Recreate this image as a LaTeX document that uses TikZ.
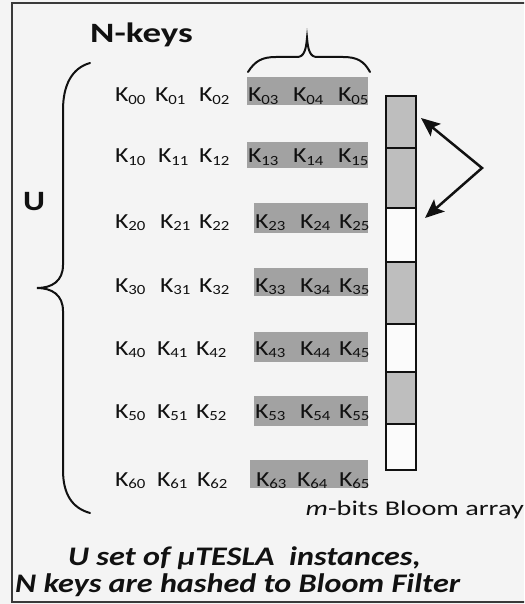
\documentclass[tikz,border=0pt]{standalone}
\usepackage{graphicx}
\usepackage{fontspec}
\setmainfont{Carlito}[FakeStretch=1.2]
\usetikzlibrary{arrows.meta}
\definecolor{bg}{HTML}{F4F4F4}
\definecolor{ink}{HTML}{111111}
\definecolor{keygray}{HTML}{A2A2A2}
\definecolor{cellgray}{HTML}{BEBEBE}
\definecolor{cellwhite}{HTML}{FBFBFB}
\definecolor{framecol}{HTML}{3A3A3A}
\newcommand\kk[1]{K\kern-0.3pt\raisebox{-2.5pt}{\fontsize{14}{14}\selectfont #1}}
\begin{document}
\begin{tikzpicture}[x=1pt,y=-1pt,
  key/.style={inner sep=0pt,anchor=base west,text=ink,font=\fontsize{21.5}{21.5}\selectfont},
  keybox/.style={fill=keygray,draw=none},
  cellbox/.style={draw=ink,line width=2pt},
  brace/.style={draw=ink,line width=2pt,line cap=round},
  arr/.style={draw=ink,line width=2.5pt,{Stealth[length=19pt,width=16pt,inset=4pt]}-{Stealth[length=19pt,width=16pt,inset=4pt]}},
  lab/.style={inner sep=0pt,text=ink}]
\useasboundingbox (0,0) rectangle (524,604);
\clip (0,0) rectangle (524,604);
\fill[bg] (0,0) rectangle (524,604);
\draw[framecol,line width=2pt] (12,3) rectangle (540,602);

% gray key boxes
\fill[keybox] (247,77) rectangle (368,105);
\fill[keybox] (247,142) rectangle (368,168);
\fill[keybox] (254,203) rectangle (368,233);
\fill[keybox] (254,268) rectangle (368,296);
\fill[keybox] (254,332) rectangle (368,362);
\fill[keybox] (254,396) rectangle (368,426);
\fill[keybox] (250,460) rectangle (368,488);

% keys
\node[key] (k00) at (115,102) {\kk{00}};
\node[key] (k01) at (155,102) {\kk{01}};
\node[key] (k02) at (199,102) {\kk{02}};
\node[key] (k03) at (248,102) {\kk{03}};
\node[key] (k04) at (293,102) {\kk{04}};
\node[key] (k05) at (338,102) {\kk{05}};

\node[key] (k10) at (115,163) {\kk{10}};
\node[key] (k11) at (158,163) {\kk{11}};
\node[key] (k12) at (199,163) {\kk{12}};
\node[key] (k13) at (248,163) {\kk{13}};
\node[key] (k14) at (293,163) {\kk{14}};
\node[key] (k15) at (338,163) {\kk{15}};

\node[key] (k20) at (115,228) {\kk{20}};
\node[key] (k21) at (160,228) {\kk{21}};
\node[key] (k22) at (199,228) {\kk{22}};
\node[key] (k23) at (255,228) {\kk{23}};
\node[key] (k24) at (300,228) {\kk{24}};
\node[key] (k25) at (339,228) {\kk{25}};

\node[key] (k30) at (115,292) {\kk{30}};
\node[key] (k31) at (160,292) {\kk{31}};
\node[key] (k32) at (199,292) {\kk{32}};
\node[key] (k33) at (255,292) {\kk{33}};
\node[key] (k34) at (300,292) {\kk{34}};
\node[key] (k35) at (339,292) {\kk{35}};

\node[key] (k40) at (115,355) {\kk{40}};
\node[key] (k41) at (157,355) {\kk{41}};
\node[key] (k42) at (196,355) {\kk{42}};
\node[key] (k43) at (255,355) {\kk{43}};
\node[key] (k44) at (300,355) {\kk{44}};
\node[key] (k45) at (339,355) {\kk{45}};

\node[key] (k50) at (115,418) {\kk{50}};
\node[key] (k51) at (157,418) {\kk{51}};
\node[key] (k52) at (196,418) {\kk{52}};
\node[key] (k53) at (255,418) {\kk{53}};
\node[key] (k54) at (300,418) {\kk{54}};
\node[key] (k55) at (339,418) {\kk{55}};

\node[key] (k60) at (115,486) {\kk{60}};
\node[key] (k61) at (157,486) {\kk{61}};
\node[key] (k62) at (197,486) {\kk{62}};
\node[key] (k63) at (256,486) {\kk{63}};
\node[key] (k64) at (297,486) {\kk{64}};
\node[key] (k65) at (339,486) {\kk{65}};

% bloom array
\filldraw[cellbox,fill=cellgray]  (386,96) rectangle (416,148);
\filldraw[cellbox,fill=cellgray]  (386,148) rectangle (416,208);
\filldraw[cellbox,fill=cellwhite] (386,208) rectangle (416,262);
\filldraw[cellbox,fill=cellgray]  (386,262) rectangle (416,324);
\filldraw[cellbox,fill=cellwhite] (386,324) rectangle (416,372);
\filldraw[cellbox,fill=cellgray]  (386,372) rectangle (416,424);
\filldraw[cellbox,fill=cellwhite] (386,424) rectangle (416,470);

% arrows
\coordinate (t1) at (421,118);
\coordinate (v) at (482,168);
\coordinate (t2) at (425,218);
\draw[arr] (t1) -- (v) -- (t2);

% left brace
\draw[brace] (90,63) .. controls (72,68) and (63,85) .. (63,110)
  -- (63,265) .. controls (63,281) and (52,288) .. (37,288)
  .. controls (52,288) and (63,295) .. (63,311)
  -- (63,470) .. controls (63,494) and (72,508) .. (90,513);

% top brace
\draw[brace] (248,72) .. controls (255,61) and (262,57) .. (276,57)
  -- (297,57) .. controls (304,57) and (306,50) .. (307,38)
  .. controls (308,50) and (310,57) .. (317,57)
  -- (343,57) .. controls (357,57) and (364,61) .. (370,72);

% labels
\node[lab,anchor=base west,font=\bfseries\fontsize{28}{28}\selectfont] (nkeys) at (90,43) {\scalebox{1.1}[1]{N-keys}};
\node[lab,anchor=base,font=\bfseries\fontsize{28}{28}\selectfont] (u) at (34,210) {U};
\node[lab,anchor=base east,font=\fontsize{21}{21}\selectfont] (mbits) at (524,515) {\scalebox{1.12}[1]{\textit{m}-bits Bloom array}};
\node[lab,anchor=base west,font=\bfseries\itshape\fontsize{26.8}{26.8}\selectfont] (cap1) at (68,565) {U set of µTESLA\ \ instances,};
\node[lab,anchor=base west,font=\bfseries\itshape\fontsize{26.8}{26.8}\selectfont] (cap2) at (15,592) {N keys are hashed to Bloom Filter};
\end{tikzpicture}
\end{document}
